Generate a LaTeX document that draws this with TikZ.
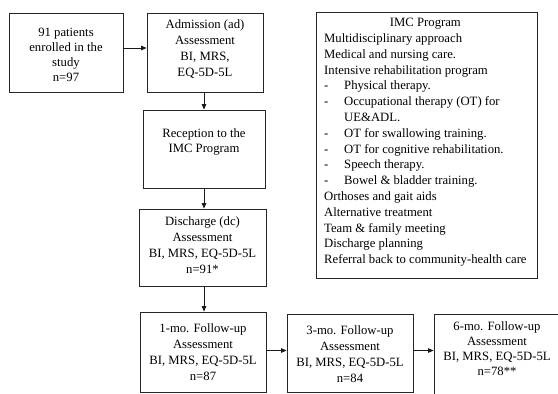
\documentclass[tikz,border=0pt]{standalone}
\usepackage{fontspec}
\setmainfont{Liberation Serif}
\usetikzlibrary{arrows.meta}
\newcommand{\imcitem}[1]{\makebox[20pt][l]{-}#1}
\begin{document}
\begin{tikzpicture}[x=1pt,y=-1pt,
  box/.style={draw=black!85, line width=0.8pt, inner sep=0pt},
  txt/.style={align=center, inner sep=0pt, font=\fontsize{12.7}{15.8}\selectfont},
  arr/.style={-{Triangle[length=5.5pt,width=4.5pt]}, line width=0.8pt, draw=black!90}]
\useasboundingbox (0,0) rectangle (558,394);
\clip (0,0) rectangle (558,394);
\fill[white] (0,0) rectangle (558,394);

\node[box, minimum width=114pt, minimum height=79pt] (b1) at (66,52.5) {};
\node[txt, font=\fontsize{12.7}{14.8}\selectfont] (t1) at (66,55) {91 patients\\enrolled in the\\study\\n=97};

\node[box, minimum width=116pt, minimum height=79pt] (b2) at (205,52.5) {};
\node[txt] (t2) at (205,49) {Admission (ad)\\Assessment\\BI, MRS,\\EQ-5D-5L};

\node[box, minimum width=122pt, minimum height=78pt] (b3) at (204,149) {};
\node[txt, font=\fontsize{12.7}{14.5}\selectfont] (t3) at (204,142) {Reception to the\\IMC Program};

\node[box, minimum width=127pt, minimum height=77pt] (b4) at (202.5,247.5) {};
\node[txt] (t4) at (202.5,245) {Discharge (dc)\\Assessment\\BI, MRS, EQ-5D-5L\\n=91*};

\node[box, minimum width=126pt, minimum height=80pt] (b5) at (203,352) {};
\node[txt] (t5) at (203,352) {1-mo. Follow-up\\Assessment\\BI, MRS, EQ-5D-5L\\n=87};

\node[box, minimum width=126pt, minimum height=78pt] (b6) at (350,353) {};
\node[txt] (t6) at (350,354) {3-mo. Follow-up\\Assessment\\BI, MRS, EQ-5D-5L\\n=84};

\node[box, minimum width=126pt, minimum height=86pt] (b7) at (497,357) {};
\node[txt, font=\fontsize{12.7}{15}\selectfont] (t7) at (497,349) {6-mo. Follow-up\\Assessment\\BI, MRS, EQ-5D-5L\\n=78**};

\node[box, minimum width=221pt, minimum height=266pt] (imc) at (426.5,145) {};
\node[txt, anchor=west] (imct) at (324,142) {%
\begin{tabular}{@{}l@{}}
\multicolumn{1}{@{}c@{}}{IMC Program}\\
Multidisciplinary approach\\
Medical and nursing care.\\
Intensive rehabilitation program\\
\imcitem{Physical therapy.}\\
\imcitem{Occupational therapy (OT) for}\\
\hspace*{20pt}UE\&ADL.\\
\imcitem{OT for swallowing training.}\\
\imcitem{OT for cognitive rehabilitation.}\\
\imcitem{Speech therapy.}\\
\imcitem{Bowel \& bladder training.}\\
Orthoses and gait aids\\
Alternative treatment\\
Team \& family meeting\\
Discharge planning\\
Referral back to community-health care
\end{tabular}};

\coordinate (ax) at (204,0);
\coordinate (ay) at (0,350.5);
\draw[arr] ([yshift=4.5pt]b1.east) -- ([yshift=4.5pt]b2.west);
\draw[arr] (b2.south -| ax) -- (b3.north -| ax);
\draw[arr] (b3.south -| ax) -- (b4.north -| ax);
\draw[arr] (b4.south -| ax) -- (b5.north -| ax);
\draw[arr] (b5.east |- ay) -- (b6.west |- ay);
\draw[arr] (b6.east |- ay) -- (b7.west |- ay);
\end{tikzpicture}
\end{document}
